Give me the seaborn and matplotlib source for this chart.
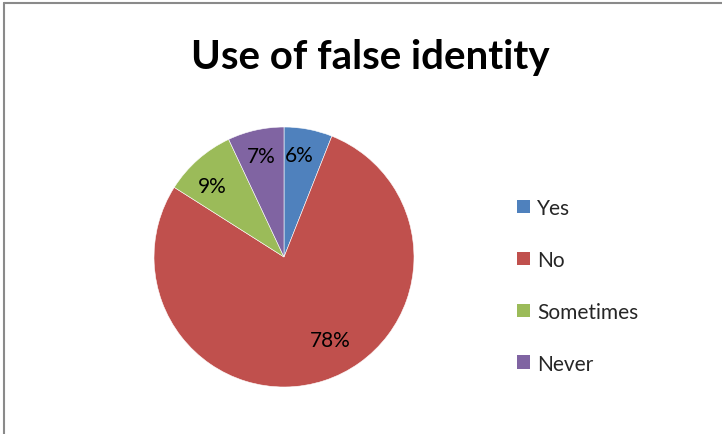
import matplotlib
matplotlib.use("Agg")
import numpy as np
import matplotlib.pyplot as plt
from matplotlib.patches import Patch
from matplotlib.lines import Line2D
import seaborn as sns

# Survey answers and their shares (percent)
categories = ["Yes", "No", "Sometimes", "Never"]
shares = [6, 78, 9, 7]
title = "Use of false identity"

sns.set_theme(style="white")
plt.rcParams["font.family"] = ["Lato", "DejaVu Sans"]

colors = ["#4F81BD", "#C0504D", "#9BBB59", "#8064A2"]

W, H = 722, 435
fig = plt.figure(figsize=(W / 100, H / 100), dpi=100)
fig.patch.set_facecolor("white")

# Pie axes: centre (284, 258) px, radius 130 px
cx, cy, r = 284, 258, 130
ax = fig.add_axes([(cx - r) / W, (H - cy - r) / H, 2 * r / W, 2 * r / H])
wedges, texts, autotexts = ax.pie(
    shares,
    colors=colors,
    startangle=90,
    counterclock=False,
    autopct="%1.0f%%",
    pctdistance=0.78,
    radius=1.0,
    wedgeprops=dict(linewidth=0.4, edgecolor="white"),
    textprops=dict(fontsize=15, color="black"),
)

# "Best fit" label placement: radial distance and angular nudge per slice
label_dist = [0.79, 0.73, 0.78, 0.80]
label_nudge = [2.4, 11.0, 4.0, 0.0]  # degrees, counter-clockwise
for w, t, d, n in zip(wedges, autotexts, label_dist, label_nudge):
    mid = np.deg2rad((w.theta1 + w.theta2) / 2 + n)
    t.set_position((d * np.cos(mid), d * np.sin(mid)))

ax.set_xlim(-1, 1)
ax.set_ylim(-1, 1)
ax.set_aspect("equal")
ax.axis("off")

# Title
fig.text(370 / W, 1 - 57 / H, title, ha="center", va="center",
         fontsize=29, fontweight="bold", color="black")

# Legend on the right
handles = [Patch(facecolor=c, edgecolor="none") for c in colors]
fig.legend(handles, categories, loc="upper left",
           bbox_to_anchor=(517 / W, 1 - 199 / H),
           frameon=False, fontsize=15, labelspacing=1.53,
           handlelength=0.63, handleheight=0.63, handletextpad=0.35,
           borderpad=0, borderaxespad=0)

# Chart-area border (top and left edges visible)
border = "#8a8a8a"
fig.add_artist(Line2D([4 / W, 1.0], [1 - 4 / H, 1 - 4 / H],
                      transform=fig.transFigure, color=border, lw=1.5))
fig.add_artist(Line2D([4 / W, 4 / W], [0.0, 1 - 4 / H],
                      transform=fig.transFigure, color=border, lw=1.5))

fig.savefig("out.png", dpi=100)
